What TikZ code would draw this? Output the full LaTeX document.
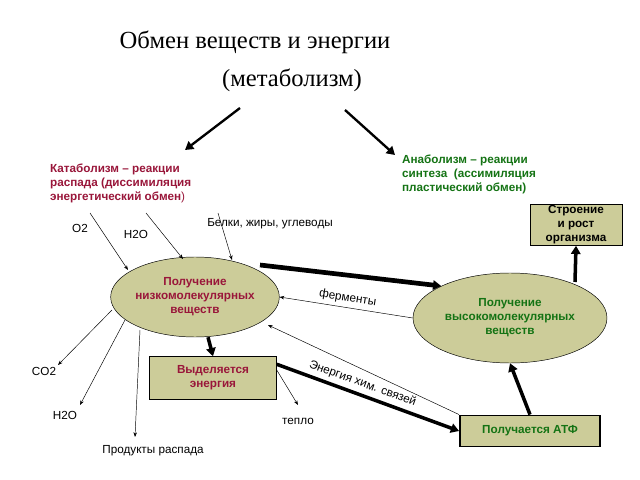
\documentclass[tikz,border=0pt]{standalone}
\usepackage{fontspec}
\setmainfont{Liberation Sans}
\newfontfamily\titlefont{Liberation Serif}
\usetikzlibrary{arrows.meta,shapes.geometric}
\definecolor{redtxt}{RGB}{153,22,58}
\definecolor{greentxt}{RGB}{20,115,20}
\definecolor{olive}{RGB}{204,204,153}
\tikzset{
  lbl/.style={font=\fontsize{10}{12}\selectfont},
  cat/.style={font=\fontsize{10}{12}\selectfont\bfseries,text=redtxt,align=left,anchor=west},
  ana/.style={font=\fontsize{10}{12}\selectfont\bfseries,text=greentxt,align=left,anchor=west},
  blob/.style={ellipse,draw,fill=olive,font=\fontsize{10}{12}\selectfont\bfseries,align=center,inner sep=0pt},
  box/.style={rectangle,draw,fill=olive,font=\fontsize{10}{12}\selectfont\bfseries,align=center},
  thinarr/.style={-{Stealth[length=4pt]},line width=0.4pt},
  fatarr/.style={-{Triangle[length=7pt,width=8pt]},line width=3pt},
}
\begin{document}
\begin{tikzpicture}[x=0.03cm,y=-0.03cm]
\useasboundingbox (0,0) rectangle (640,480);
\node[font=\titlefont\fontsize{21}{24}\selectfont] (title) at (255,42) {Обмен веществ и энергии};
\node[font=\titlefont\fontsize{21}{24}\selectfont] (meta) at (292,80) {(метаболизм)};
\coordinate (t1) at (240,108);
\coordinate (t2) at (345,110);
\node[cat] (cata) at (46,183) {Катаболизм -- реакции\\распада (диссимиляция\\энергетический обмен\textmd{)}};
\node[ana] (ana) at (398,174) {Анаболизм -- реакции\\синтеза\ \ (ассимиляция\\пластический обмен)};
\draw[fatarr,line width=2pt] (t1) -- (185,150);
\draw[fatarr,line width=2pt] (t2) -- (395,155);
\node[box,minimum width=92*0.03cm,inner sep=1pt] (rost) at (576,225) {Строение\\и рост\\организма};
\node[blob,minimum width=164*0.03cm,minimum height=80*0.03cm] (low) at (195,297) {\textcolor{redtxt}{Получение}\\\textcolor{redtxt}{низкомолекулярных}\\\textcolor{redtxt}{веществ}};
\node[blob,minimum width=194*0.03cm,minimum height=90*0.03cm] (high) at (510,318) {\textcolor{greentxt}{Получение}\\\textcolor{greentxt}{высокомолекулярных}\\\textcolor{greentxt}{веществ}};
\node[box,text=redtxt,minimum width=127*0.03cm,minimum height=43*0.03cm] (energy) at (213,378) {Выделяется\\энергия};
\node[box,text=greentxt,line width=1.6pt,minimum width=140*0.03cm,minimum height=31*0.03cm] (atp) at (530,431) {Получается АТФ};
% labels
\node[lbl] (o2) at (80,228) {O2};
\node[lbl] (h2o) at (136,234) {H2O};
\node[lbl] (food) at (270,224) {Белки, жиры, углеводы};
\node[lbl] (co2) at (44,371) {CO2};
\node[lbl] (h2ob) at (65,415) {H2O};
\node[lbl] (heat) at (298,421) {тепло};
\node[lbl] (waste) at (153,451) {Продукты распада};
% inputs and outputs
\draw[thinarr] (90,213) -- (128,270);
\draw[thinarr] (146,213) -- (183,259);
\draw[thinarr] (218,213) -- (232,260);
\draw[thinarr] (112,310) -- (58,365);
\draw[thinarr] (125,320) -- (80,405);
\draw[thinarr] (140,330) -- (135,437);
\draw[thinarr] (energy.east) ++(0,-8) -- (298,405);
% main flow
\draw[fatarr,line width=4pt] (260,265) -- (high.north west);
\draw[thinarr] (high.west) -- (low.east) node[lbl,midway,above,sloped] {ферменты};
\draw[thinarr] (atp.north west) -- (268,325);
\draw[fatarr] (energy.north east) ++(0,8) -- (atp.west) node[lbl,pos=0.45,above,sloped] {Энергия хим. связей};
\draw[fatarr] (atp.north) -- (high.south);
\draw[fatarr] (575,282) -- (rost.south);
\draw[fatarr] (low.south) ++(13,0) -- (energy.north);
\end{tikzpicture}
\end{document}
